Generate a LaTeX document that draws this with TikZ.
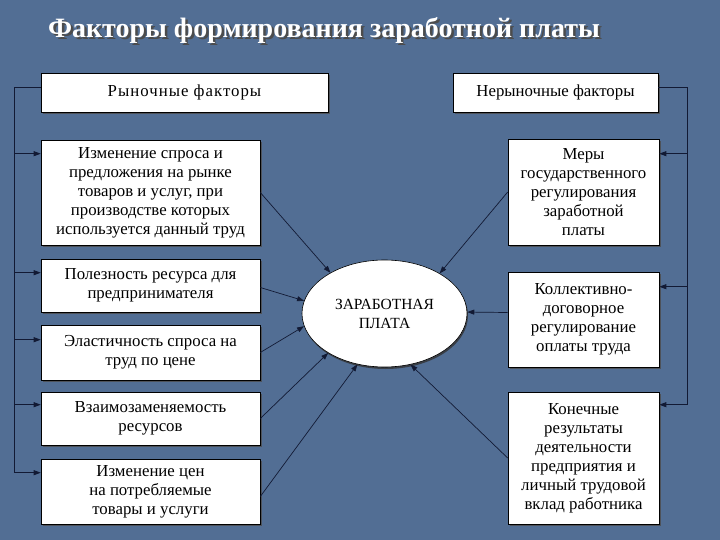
\documentclass[tikz,border=0pt]{standalone}
\usepackage{fontspec}
\setmainfont{Liberation Serif}
\usetikzlibrary{arrows.meta,shapes.geometric,shadows}
\definecolor{bgblue}{RGB}{82,110,148}
\definecolor{linecol}{RGB}{18,26,52}
\tikzset{
  box/.style={draw=black, line width=0.6pt, fill=white, align=center, inner sep=2pt,
    font=\fontsize{16.8}{19}\selectfont,
    drop shadow={shadow xshift=2pt, shadow yshift=-2pt, fill=black!70, opacity=0.8}},
  conn/.style={draw=linecol, line width=0.7pt},
  arr/.style={conn, -{Triangle[length=7pt,width=5pt]}},
}
\begin{document}
\begin{tikzpicture}[x=1pt,y=-1pt]
\fill[bgblue] (0,0) rectangle (720,540);
\useasboundingbox (0,0) rectangle (720,540);
% title
\node[text=black!70, font=\bfseries\fontsize{28}{32}\selectfont] at (326.5,32.5) {Факторы формирования заработной платы};
\node[text=white, font=\bfseries\fontsize{28}{32}\selectfont] (title) at (324,30) {Факторы формирования заработной платы};
% boxes
\node[box, minimum width=287, minimum height=39, font=\addfontfeature{LetterSpace=6}\fontsize{16.8}{19}\selectfont] (TL) at (184.5,92.5) {Рыночные факторы};
\node[box, minimum width=205, minimum height=39] (TR) at (555.5,92.5) {Нерыночные факторы};
\node[box, minimum width=219, minimum height=105] (L1) at (150.5,192.5) {Изменение спроса и\\предложения на рынке\\товаров и услуг, при\\производстве которых\\используется данный труд};
\node[box, minimum width=219, minimum height=53] (L2) at (150.5,285.5) {Полезность ресурса для\\предпринимателя};
\node[box, minimum width=219, minimum height=55] (L3) at (150.5,352.5) {Эластичность спроса на\\труд по цене};
\node[box, minimum width=219, minimum height=53] (L4) at (150.5,418.5) {Взаимозаменяемость\\ресурсов};
\node[box, minimum width=219, minimum height=65] (L5) at (150.5,491.5) {Изменение цен\\на потребляемые\\товары и услуги};
\node[box, minimum width=151, minimum height=106] (R1) at (583.5,192) {Меры\\государственного\\регулирования\\заработной\\платы};
\node[box, minimum width=151, minimum height=95] (R2) at (583.5,319.5) {Коллективно-\\договорное\\регулирование\\оплаты труда};
\node[box, minimum width=151, minimum height=132] (R3) at (583.5,458) {Конечные\\результаты\\деятельности\\предприятия и\\личный трудовой\\вклад работника};
\node[ellipse, draw=black, line width=0.6pt, fill=white, minimum width=165, minimum height=107, inner sep=0pt,
  align=center, font=\fontsize{15.5}{19}\selectfont,
  drop shadow={shadow xshift=1pt, shadow yshift=-2pt, fill=black!80, opacity=0.8}] (ell) at (384.5,313.5) {ЗАРАБОТНАЯ\\ПЛАТА};
% left bracket
\coordinate (lb) at (14,87);
\coordinate (lbend) at (14,473);
\draw[conn] ([yshift=5.5pt]TL.west) -- (lb) -- (lbend);
\foreach \n/\d in {L1/14,L2/14,L3/15,L4/13,L5/14}{
  \coordinate (t\n) at ([yshift=-\d pt]\n.north west);
  \draw[arr] (lb |- t\n) -- (t\n);
}
% right bracket
\coordinate (rb) at (687,87);
\coordinate (rbend) at (687,405);
\draw[conn] ([yshift=5.5pt]TR.east) -- (rb) -- (rbend);
\foreach \n/\d in {R1/15,R2/15,R3/13}{
  \coordinate (t\n) at ([yshift=-\d pt]\n.north east);
  \draw[arr] (rb |- t\n) -- (t\n);
}
% arrows to ellipse
\draw[arr] (L1.east) -- (ell.143);
\draw[arr] ([yshift=-2pt]L2.east) -- (ell.171);
\draw[arr] (L3.east) -- (ell.189);
\draw[arr] (L4.east) -- (ell.215);
\draw[arr] ([yshift=-5pt]L5.east) -- (ell.242);
\draw[arr] (R1.west) -- (ell.36);
\draw[arr] ([yshift=7pt]R2.west) -- (ell.1);
\draw[arr] (R3.west) -- (ell.297);
\end{tikzpicture}
\end{document}
